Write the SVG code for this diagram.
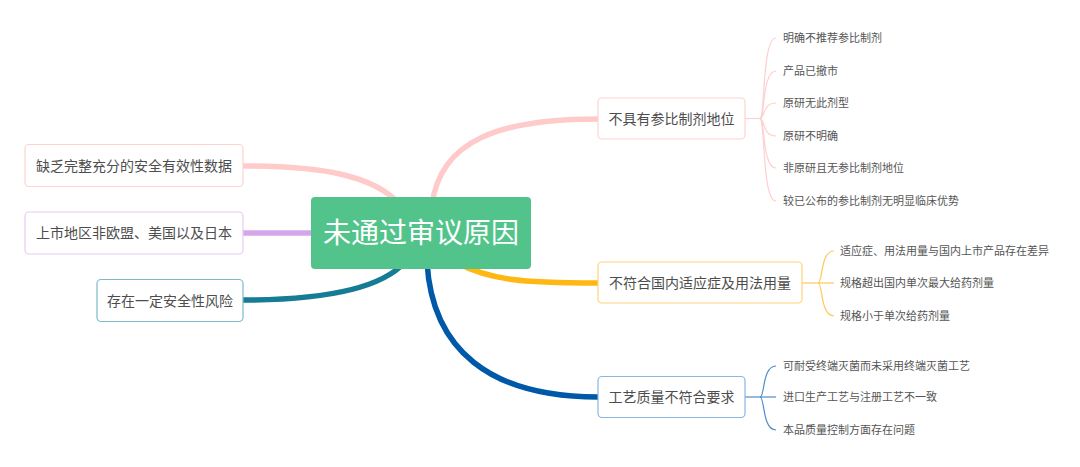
<svg xmlns="http://www.w3.org/2000/svg" width="1080" height="467" viewBox="0 0 1080 467">
<style>
.main{fill:none;stroke-width:5.5;stroke-linecap:round}
.leafl{fill:none;stroke-width:1.2}
.box{fill:#fff;stroke-width:1.2}
.t{font-family:"Liberation Sans","Noto Sans CJK SC",sans-serif;font-size:14px;fill:#4d4d4d;text-anchor:middle}
.lt{font-family:"Liberation Sans","Noto Sans CJK SC",sans-serif;font-size:11px;fill:#555}
.ct{font-family:"Liberation Sans","Noto Sans CJK SC",sans-serif;font-size:28px;fill:#fff;text-anchor:middle}
</style>
<rect width="1080" height="467" fill="#fff"/>
<g id="connectors">
<path class="main" stroke="#FFCACA" d="M243,166 C320,166 375,175 400,205"/>
<path class="main" stroke="#D6A6EA" d="M243,233 H330"/>
<path class="main" stroke="#167B94" d="M243,300 C320,300 380,290 405,262"/>
<path class="main" stroke="#FFCACA" d="M598,119 C500,119 440,140 432,205"/>
<path class="main" stroke="#FFB714" d="M455,262 C490,280 520,283 598,283"/>
<path class="main" stroke="#0059A8" d="M427,262 C432,350 490,397 598,397"/>
<g stroke="#FFCFCF" class="leafl">
<path d="M745,118.5 H760"/>
<path d="M760,118.5 C765,118.5 762,38 776,38"/>
<path d="M760,118.5 C765,118.5 762,71 776,71"/>
<path d="M760,118.5 C765,118.5 762,103 776,103"/>
<path d="M760,118.5 C765,118.5 762,136 776,136"/>
<path d="M760,118.5 C765,118.5 762,168 776,168"/>
<path d="M760,118.5 C765,118.5 762,201 776,201"/>
</g>
<g stroke="#FFC95A" class="leafl">
<path d="M802,283 H818"/>
<path d="M818,283 C823,283 820,251 834,251"/>
<path d="M818,283 H834"/>
<path d="M818,283 C823,283 820,316 834,316"/>
</g>
<g stroke="#4F8CCB" class="leafl">
<path d="M745,397 H760"/>
<path d="M760,397 C765,397 762,366 776,366"/>
<path d="M760,397 H776"/>
<path d="M760,397 C765,397 762,430 776,430"/>
</g>
</g>
<g id="center">
<rect x="311" y="197" width="220" height="72" rx="4" fill="#52C48B"/>
<text class="ct" x="421" y="243">未通过审议原因</text>
</g>
<g id="l1">
<rect class="box" x="25" y="144.5" width="218" height="42" rx="4" stroke="#FFD2D2"/>
<text class="t" x="134" y="170.5">缺乏完整充分的安全有效性数据</text>
</g>
<g id="l2">
<rect class="box" x="25" y="212" width="218" height="42" rx="4" stroke="#E8CBF4"/>
<text class="t" x="134" y="238">上市地区非欧盟、美国以及日本</text>
</g>
<g id="l3">
<rect class="box" x="97" y="279.5" width="146" height="42" rx="4" stroke="#7DBACA"/>
<text class="t" x="170" y="305.5">存在一定安全性风险</text>
</g>
<g id="r1">
<rect class="box" x="598" y="98" width="147" height="41" rx="4" stroke="#FFD2D2"/>
<text class="t" x="671.5" y="123.5">不具有参比制剂地位</text>
</g>
<g id="r2">
<rect class="box" x="598" y="262" width="204" height="41" rx="4" stroke="#FFD27C"/>
<text class="t" x="700" y="288">不符合国内适应症及用法用量</text>
</g>
<g id="r3">
<rect class="box" x="598" y="376.5" width="147" height="41" rx="4" stroke="#8DB5DF"/>
<text class="t" x="671.5" y="402">工艺质量不符合要求</text>
</g>
<g id="leaves1">
<text class="lt" x="783" y="42">明确不推荐参比制剂</text>
<text class="lt" x="783" y="75">产品已撤市</text>
<text class="lt" x="783" y="107">原研无此剂型</text>
<text class="lt" x="783" y="140">原研不明确</text>
<text class="lt" x="783" y="172">非原研且无参比制剂地位</text>
<text class="lt" x="783" y="205">较已公布的参比制剂无明显临床优势</text>
</g>
<g id="leaves2">
<text class="lt" x="840" y="255">适应症、用法用量与国内上市产品存在差异</text>
<text class="lt" x="840" y="287">规格超出国内单次最大给药剂量</text>
<text class="lt" x="840" y="320">规格小于单次给药剂量</text>
</g>
<g id="leaves3">
<text class="lt" x="783" y="370">可耐受终端灭菌而未采用终端灭菌工艺</text>
<text class="lt" x="783" y="401">进口生产工艺与注册工艺不一致</text>
<text class="lt" x="783" y="434">本品质量控制方面存在问题</text>
</g>
</svg>
